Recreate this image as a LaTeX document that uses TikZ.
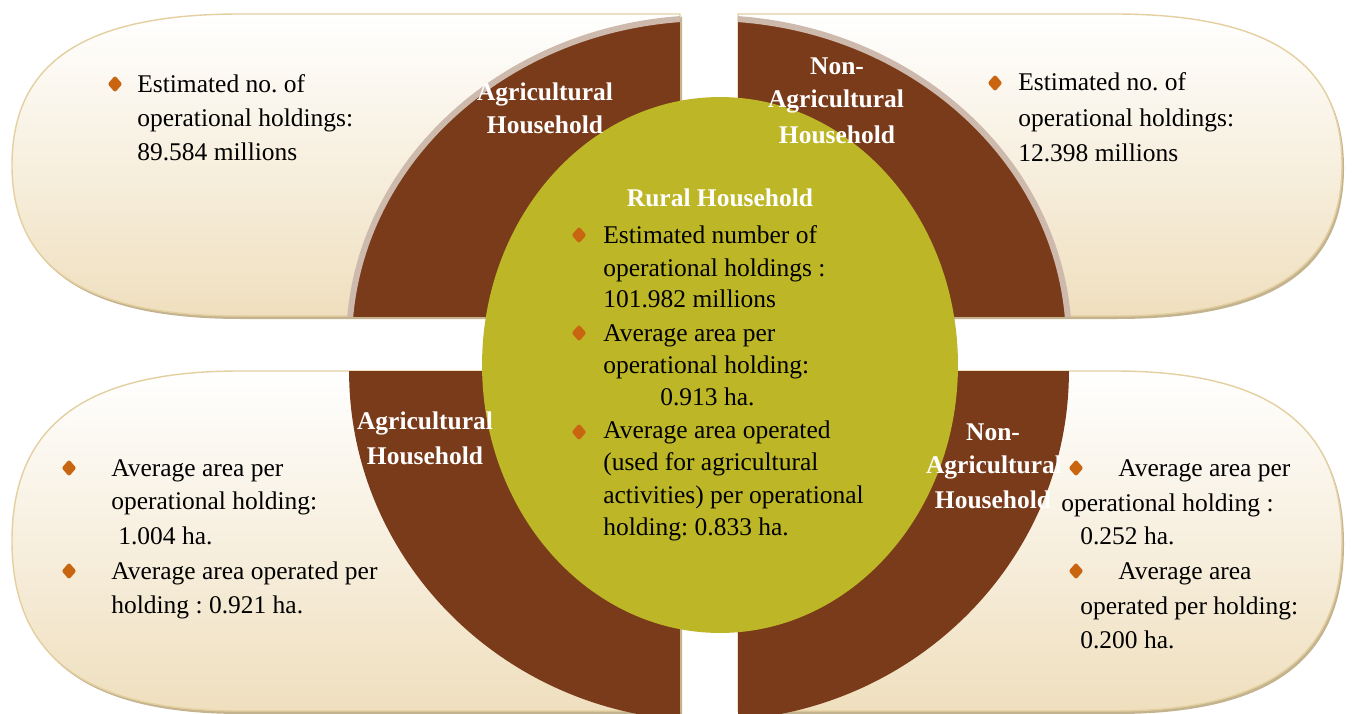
\documentclass[tikz,border=0pt]{standalone}
\usepackage{fontspec}
\setmainfont{Liberation Serif}
\usetikzlibrary{shapes.geometric}
\definecolor{brun}{HTML}{7A3B1A}
\definecolor{olivecentre}{HTML}{BDB626}
\definecolor{creme}{HTML}{EFDFBE}
\definecolor{bordure}{HTML}{E4CFA0}
\definecolor{ombrepilule}{HTML}{C4B38F}
\definecolor{ombreanneau}{HTML}{CDBAAC}
\definecolor{puceorange}{HTML}{C96410}
\frenchspacing
\begin{document}
\begin{tikzpicture}[x=0.02cm,y=0.02cm]
	\tikzstyle{texte}=[anchor=base west,inner sep=0pt,font=\fontsize{14.5}{18}\selectfont]
	\tikzstyle{titre}=[anchor=base,inner sep=0pt,text=white,font=\bfseries\fontsize{14.5}{18}\selectfont]
	\tikzstyle{puce}=[diamond,fill=puceorange,inner sep=0pt,minimum width=0.3cm,minimum height=0.34cm,rounded corners=1.2pt]
	\tikzstyle{pilule}=[draw=bordure,line width=0.8pt,top color=white,bottom color=creme]
	\tikzstyle{ombre}=[fill=ombrepilule,shift={(2,-3)}]
	\def\PiluleHG{(680,-14) -- (240,-14) .. controls (85,-14) and (12,-62) .. (12,-165) .. controls (12,-268) and (85,-316) .. (240,-316) -- (680,-316) -- cycle}
	\def\PiluleHD{(738,-14) -- (1114,-14) .. controls (1269,-14) and (1342,-62) .. (1342,-165) .. controls (1342,-268) and (1269,-316) .. (1114,-316) -- (738,-316) -- cycle}
	\def\PiluleBG{(680,-371) -- (240,-371) .. controls (85,-371) and (12,-425) .. (12,-541) .. controls (12,-657) and (85,-711) .. (240,-711) -- (680,-711) -- cycle}
	\def\PiluleBD{(738,-371) -- (1114,-371) .. controls (1269,-371) and (1342,-425) .. (1342,-541) .. controls (1342,-657) and (1269,-711) .. (1114,-711) -- (738,-711) -- cycle}
	\useasboundingbox (0,0) rectangle (1354,-713);
	% pilules
	\fill[ombre] \PiluleHG;
	\fill[ombre] \PiluleHD;
	\fill[ombre] \PiluleBG;
	\fill[ombre] \PiluleBD;
	\path[pilule] \PiluleHG;
	\path[pilule] \PiluleHD;
	\path[pilule] \PiluleBG;
	\path[pilule] \PiluleBD;
	% anneau
	\begin{scope}
		\clip (0,0) rectangle (680,-316);
		\fill[brun,draw=ombreanneau,line width=0.12cm] (709,-343) ellipse [x radius=7.2cm,y radius=6.5cm];
	\end{scope}
	\begin{scope}
		\clip (738,0) rectangle (1354,-316);
		\fill[brun,draw=ombreanneau,line width=0.12cm] (709,-343) ellipse [x radius=7.2cm,y radius=6.5cm];
	\end{scope}
	\begin{scope}
		\clip (0,-371) rectangle (680,-713);
		\fill[brun] (709,-371) ellipse [x radius=7.2cm,y radius=7cm];
	\end{scope}
	\begin{scope}
		\clip (738,-371) rectangle (1354,-713);
		\fill[brun] (709,-371) ellipse [x radius=7.2cm,y radius=7cm];
	\end{scope}
	% centre
	\fill[olivecentre] (720,-365) ellipse [x radius=4.76cm,y radius=5.36cm];
	% titres
	\node[titre] (lhg1) at (545,-100) {Agricultural};
	\node[titre] (lhg2) at (545,-133) {Household};
	\node[titre] (lhd1) at (837,-74) {Non-};
	\node[titre] (lhd2) at (836,-108) {Agricultural};
	\node[titre] (lhd3) at (837,-143) {Household};
	\node[titre] (lbg1) at (425,-429) {Agricultural};
	\node[titre] (lbg2) at (425,-464) {Household};
	\node[titre] (lbd1) at (993,-440) {Non-};
	\node[titre] (lbd2) at (994,-473) {Agricultural};
	\node[titre] (lbd3) at (993,-508) {Household};
	\node[titre] (c0) at (720,-206) {Rural Household};
	% textes
	\node[texte] (hg1) at (137,-92) {Estimated no. of};
	\node[texte] (hg2) at (137,-126) {operational holdings:};
	\node[texte] (hg3) at (137,-160) {89.584 millions};
	\node[texte] (hd1) at (1018,-91) {Estimated no. of};
	\node[texte] (hd2) at (1018,-126) {operational holdings:};
	\node[texte] (hd3) at (1018,-161) {12.398 millions};
	\node[texte] (c1) at (603,-243) {Estimated number of};
	\node[texte] (c2) at (603,-276) {operational holdings :};
	\node[texte] (c3) at (603,-307) {101.982 millions};
	\node[texte] (c4) at (603,-341) {Average area per};
	\node[texte] (c5) at (603,-373) {operational holding:};
	\node[texte] (c6) at (660,-405) {0.913 ha.};
	\node[texte] (c7) at (603,-438) {Average area operated};
	\node[texte] (c8) at (603,-470) {(used for agricultural};
	\node[texte] (c9) at (603,-503) {activities) per operational};
	\node[texte] (c10) at (603,-535) {holding: 0.833 ha.};
	\node[texte] (bg1) at (111,-476) {Average area per};
	\node[texte] (bg2) at (111,-509) {operational holding:};
	\node[texte] (bg3) at (118,-544) {1.004 ha.};
	\node[texte] (bg4) at (111,-579) {Average area operated per};
	\node[texte] (bg5) at (111,-613) {holding : 0.921 ha.};
	\node[texte] (bd1) at (1118,-476) {Average area per};
	\node[texte] (bd2) at (1061,-511) {operational holding :};
	\node[texte] (bd3) at (1080,-544) {0.252 ha.};
	\node[texte] (bd4) at (1118,-579) {Average area};
	\node[texte] (bd5) at (1080,-614) {operated per holding:};
	\node[texte] (bd6) at (1080,-648) {0.200 ha.};
	% puces
	\foreach \x/\y [count=\i] in {115/84,995/83,579/235,579/333,579/432,69/468,69/571,1076/468,1076/571}
		\node[puce] (p\i) at (\x,-\y) {};
\end{tikzpicture}
\end{document}
